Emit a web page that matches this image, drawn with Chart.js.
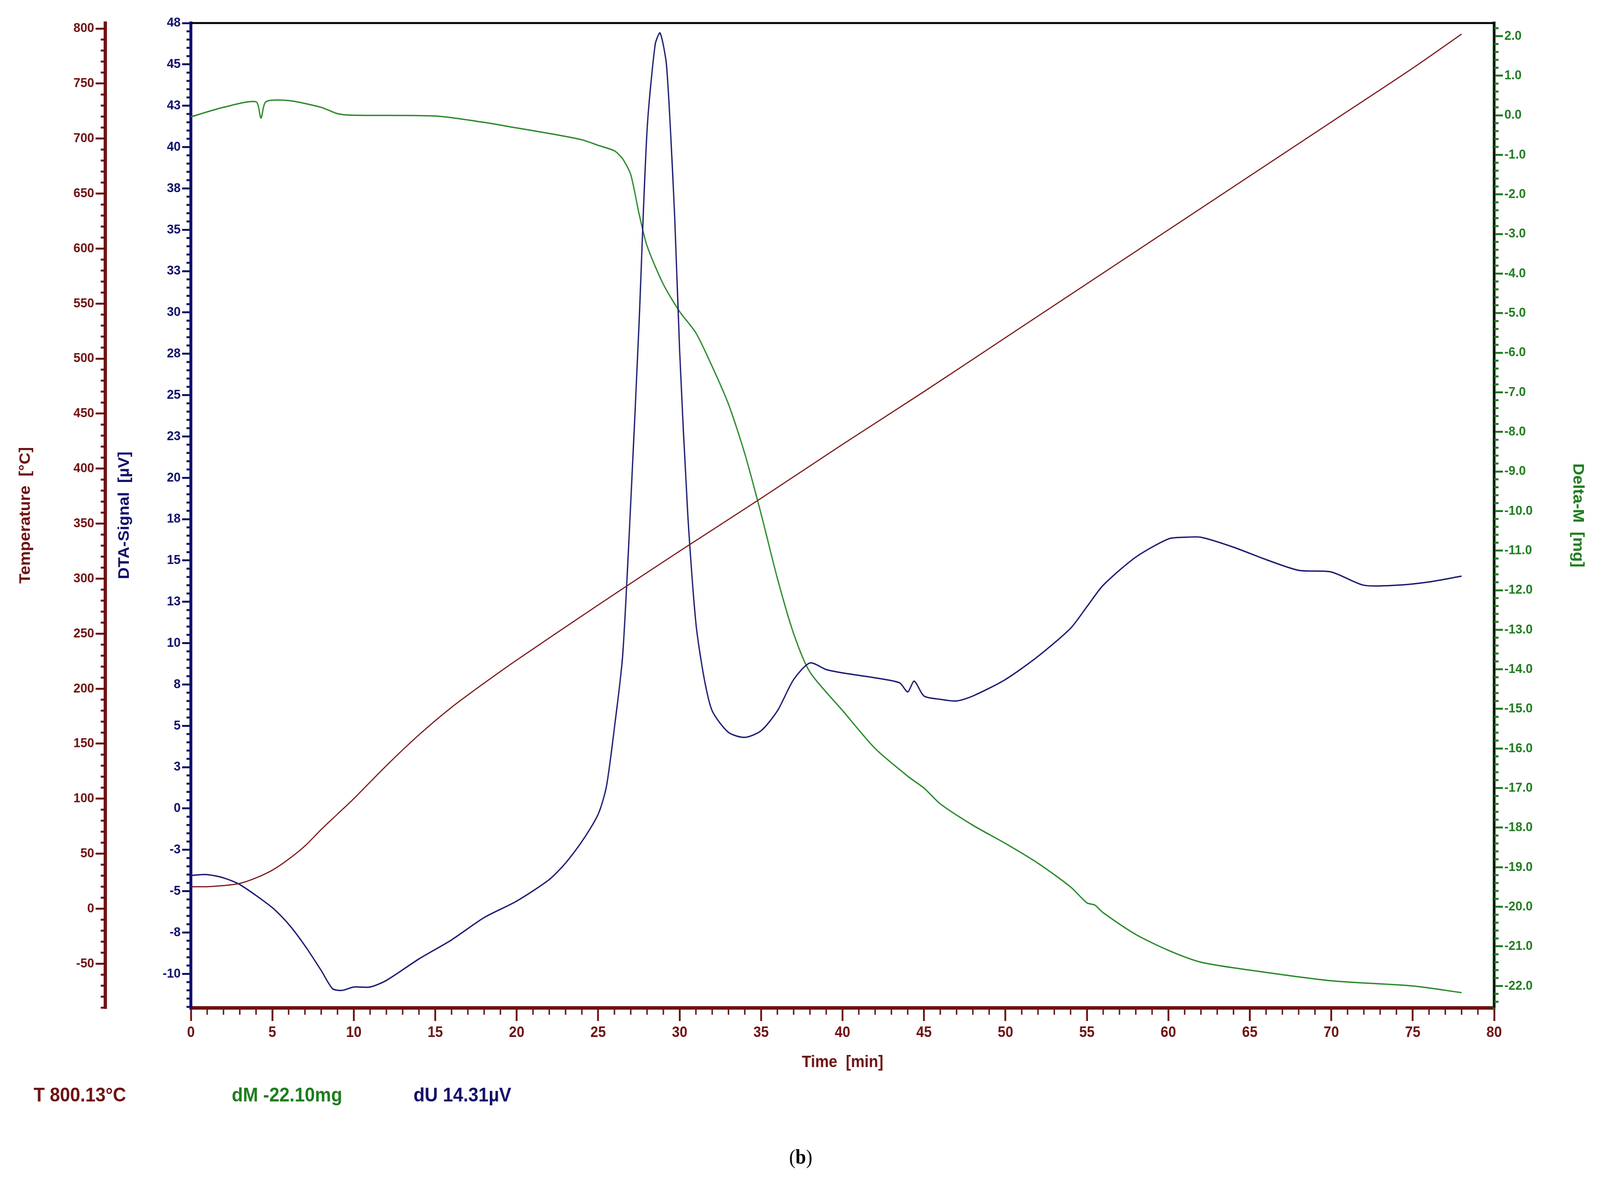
<!DOCTYPE html>
<html><head><meta charset="utf-8">
<script src="https://cdn.jsdelivr.net/npm/chart.js@4"></script>
<style>html,body{margin:0;padding:0;background:#fff;overflow:hidden}canvas{display:block}</style>
</head><body>
<canvas id="c" width="4384" height="3016" style="width:100vw;height:100vh"></canvas>
<script>
const tempTime = [0,1,2,3,4,5,6,7,8,9,10,12,14,16,18,20,25,30,35,40,45,50,55,60,65,70,75,78];
const tempValues = [20,20,21,23,28,35,45,57,72,86,100,130,158,183,205,226,276,325,373,422,470,519,568,617,666,715,764,795];

const dtaTime = [0,1,2,3,5,6,7,8,8.7,9.3,10,11,12,14,16,18,20,22,23,24,25,25.5,26,26.5,27,27.5,28,28.5,28.8,29.2,29.7,30,30.5,31,31.5,32,33,34,35,36,37,38,39,40,42,43.5,44,44.4,45,46,47,48,50,52,54,55,56,58,60,61,62,64,66,68,70,72,74,76,78];
const dtaValues = [-4.05,-4.0,-4.2,-4.6,-6.0,-7.0,-8.3,-9.8,-10.9,-11.0,-10.8,-10.8,-10.4,-9.1,-7.95,-6.6,-5.6,-4.3,-3.3,-2.0,-0.35,1.3,4.9,9.2,18.5,29.1,41,46.2,46.9,44.9,35.7,27.7,17.8,11.2,7.9,5.9,4.6,4.3,4.7,5.9,7.8,8.8,8.4,8.2,7.9,7.6,7.05,7.7,6.8,6.6,6.5,6.8,7.8,9.2,10.9,12.2,13.5,15.2,16.3,16.4,16.4,15.8,15.05,14.4,14.3,13.5,13.5,13.7,14.05];

const dmTime = [0,2,4,4.3,4.6,6,8,9,10,15,18,20,22,24,25,26,26.5,27,27.5,28,29,30,31,32,33,34,35,36,37,38,40,42,44,45,46,48,50,52,54,55,55.5,56,58,60,62,65,70,75,78];
const dmValues = [-0.04,0.2,0.34,-0.07,0.34,0.37,0.2,0.04,0.0,-0.02,-0.18,-0.32,-0.46,-0.62,-0.76,-0.9,-1.1,-1.5,-2.47,-3.3,-4.27,-4.96,-5.5,-6.35,-7.3,-8.55,-10.07,-11.7,-13.1,-14.07,-15.04,-16.0,-16.7,-17.0,-17.4,-17.94,-18.4,-18.9,-19.5,-19.9,-19.96,-20.15,-20.7,-21.1,-21.4,-21.6,-21.87,-22.0,-22.17];

const timeTicks = [0,5,10,15,20,25,30,35,40,45,50,55,60,65,70,75,80];
const tempTicks = [-50,0,50,100,150,200,250,300,350,400,450,500,550,600,650,700,750,800];
const dtaTicks = [-10,-7.5,-5,-2.5,0,2.5,5,7.5,10,12.5,15,17.5,20,22.5,25,27.5,30,32.5,35,37.5,40,42.5,45,47.5];
const dmTicks = [-22,-21,-20,-19,-18,-17,-16,-15,-14,-13,-12,-11,-10,-9,-8,-7,-6,-5,-4,-3,-2,-1,0,1,2];

const RED='#6e1212', BLUE='#10106a', GREEN='#1f7d1f';
const pts=(t,v)=>t.map((x,i)=>({x,y:v[i]}));
const setTicks=arr=>s=>{s.ticks=arr.map(v=>({value:v}));};
const tickFont={family:'Liberation Sans',weight:'bold',size:34};
const titleFont={family:'Liberation Sans',weight:'bold',size:42};

const extras={id:'extras',
 afterDraw(ch){
  const c=ch.ctx,a=ch.chartArea,s=ch.scales;
  c.save();
  c.strokeStyle='#000';c.lineWidth=5;
  c.beginPath();c.moveTo(a.left,a.top);c.lineTo(a.right,a.top);c.lineTo(a.right,a.bottom);c.stroke();
  c.lineWidth=5;
  c.strokeStyle=RED;
  for(let v=-90;v<=805;v+=10){if(v%50===0)continue;const y=s.yT.getPixelForValue(v);c.beginPath();c.moveTo(s.yT.right-12,y);c.lineTo(s.yT.right,y);c.stroke();}
  c.strokeStyle=BLUE;
  for(let k=-24;k<=95;k++){const v=k/2;if(Math.abs(v/2.5-Math.round(v/2.5))<1e-6)continue;const y=s.yD.getPixelForValue(v);if(y<a.top-1||y>a.bottom)continue;c.beginPath();c.moveTo(s.yD.right-12,y);c.lineTo(s.yD.right,y);c.stroke();}
  c.strokeStyle=GREEN;
  for(let k=-112;k<=11;k++){if(k%5===0)continue;const y=s.yM.getPixelForValue(k/5);c.beginPath();c.moveTo(s.yM.left,y);c.lineTo(s.yM.left+12,y);c.stroke();}
  c.strokeStyle=RED;c.lineWidth=4;
  for(let t=1;t<80;t++){if(t%5===0)continue;const x=s.x.getPixelForValue(t);c.beginPath();c.moveTo(x,a.bottom);c.lineTo(x,a.bottom+18);c.stroke();}
  c.textBaseline='middle';c.textAlign='left';
  c.font='bold 50px "Liberation Sans"';
  c.fillStyle=RED;c.fillText('T 800.13°C',92,2806);
  c.fillStyle=GREEN;c.fillText('dM -22.10mg',635,2806);
  c.fillStyle=BLUE;c.fillText('dU 14.31µV',1133,2806);
  c.fillStyle='#000';c.font='52px "Liberation Serif"';
  const w1=c.measureText('(').width;
  c.font='bold 52px "Liberation Serif"';const w2=c.measureText('b').width;
  c.font='52px "Liberation Serif"';const w3=c.measureText(')').width;
  let x0=2194-(w1+w2+w3)/2;
  c.fillText('(',x0,2966);c.font='bold 52px "Liberation Serif"';c.fillText('b',x0+w1,2966);
  c.font='52px "Liberation Serif"';c.fillText(')',x0+w1+w2,2966);
  c.restore();
 }};

new Chart(document.getElementById('c'),{
 type:'line',
 data:{datasets:[
  {label:'Temperature',data:pts(tempTime,tempValues),yAxisID:'yT',borderColor:'#7a1818',borderWidth:3,pointRadius:0,tension:0.3},
  {label:'DTA',data:pts(dtaTime,dtaValues),yAxisID:'yD',borderColor:'#1a1a70',borderWidth:3.5,pointRadius:0,tension:0.25},
  {label:'Delta-M',data:pts(dmTime,dmValues),yAxisID:'yM',borderColor:'#2a8a2a',borderWidth:3.5,pointRadius:0,tension:0.25}
 ]},
 options:{responsive:false,animation:false,devicePixelRatio:1,
  layout:{padding:{top:59,bottom:266,left:0,right:0}},
  plugins:{legend:{display:false},tooltip:{enabled:false}},
  scales:{
   x:{type:'linear',min:0,max:80,afterBuildTicks:setTicks(timeTicks),
      afterFit:s=>{s.height=170;},
      border:{color:RED,width:9},
      grid:{drawOnChartArea:false,color:RED,lineWidth:5,tickLength:34},
      ticks:{color:RED,font:{family:'Liberation Sans',weight:'bold',size:38},padding:8,maxRotation:0},
      title:{display:true,text:'Time  [min]',color:RED,font:titleFont,padding:{top:0,bottom:4}}},
   yD:{position:'left',min:-12.05,max:47.5,afterBuildTicks:setTicks(dtaTicks),
      afterFit:s=>{s.width=235;},
      border:{color:BLUE,width:8},
      grid:{drawOnChartArea:false,color:BLUE,lineWidth:5,tickLength:24},
      ticks:{color:BLUE,font:tickFont,padding:4,callback:v=>String(Math.sign(v)*Math.round(Math.abs(v)))},
      title:{display:true,text:'DTA-Signal  [µV]',color:BLUE,font:titleFont,padding:{top:28,bottom:0}}},
   yT:{position:'left',min:-90,max:805,afterBuildTicks:setTicks(tempTicks),
      afterFit:s=>{s.width=288;},
      border:{color:RED,width:9},
      grid:{drawOnChartArea:false,color:RED,lineWidth:5,tickLength:26},
      ticks:{color:RED,font:tickFont,padding:4},
      title:{display:true,text:'Temperature  [°C]',color:RED,font:titleFont,padding:{top:45,bottom:0}}},
   yM:{position:'right',min:-22.55,max:2.33,afterBuildTicks:setTicks(dmTicks),
      afterFit:s=>{s.width=290;},
      border:{color:GREEN,width:8},
      grid:{drawOnChartArea:false,color:GREEN,lineWidth:5,tickLength:24},
      ticks:{color:GREEN,font:tickFont,padding:4,callback:v=>v.toFixed(1)},
      title:{display:true,text:'Delta-M  [mg]',color:GREEN,font:titleFont,padding:{top:36,bottom:0}}}
  }}
 ,plugins:[extras]});
</script>
</body></html>
